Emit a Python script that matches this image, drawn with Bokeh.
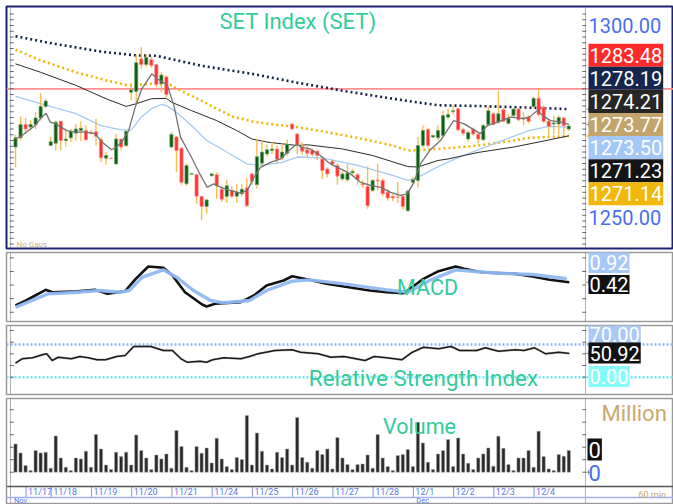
import numpy as np
from bokeh.plotting import figure
from bokeh.layouts import column
from bokeh.models import (Range1d, Label, LabelSet, Span, ColumnDataSource)
from bokeh.core.properties import value
from bokeh.embed import file_html
from bokeh.resources import INLINE

FONT = "Roboto"

# ---------------- data (60-min bars, SET index) ----------------
opens = [1268.3, 1270.7, 1274.2, 1273.5, 1274.2, 1275.9, 1278.9, 1268.7, 1269.3, 1275.0,
         1270.0, 1270.7, 1271.9, 1272.6, 1272.6, 1272.2, 1272.3, 1270.3, 1265.4, 1265.4,
         1263.9, 1270.4, 1268.7, 1282.6, 1282.8, 1291.3, 1289.8, 1291.1, 1289.8, 1284.8,
         1286.6, 1268.3, 1270.9, 1268.0, 1258.7, 1261.2, 1261.1, 1255.4, 1252.8, 1260.8,
         1261.1, 1257.3, 1255.4, 1257.0, 1255.5, 1256.1, 1257.7, 1261.3, 1258.5, 1264.1,
         1266.5, 1267.4, 1267.8, 1265.5, 1266.7, 1274.3, 1271.7, 1268.4, 1267.6, 1267.4,
         1267.2, 1265.2, 1262.6, 1264.6, 1263.5, 1260.0, 1259.8, 1261.6, 1261.1, 1258.6,
         1258.0, 1257.0, 1259.7, 1259.6, 1256.5, 1255.4, 1255.3, 1255.5, 1251.7, 1259.1,
         1259.6, 1268.7, 1272.9, 1270.9, 1270.7, 1271.3, 1276.1, 1277.5, 1278.3, 1272.9,
         1270.4, 1273.0, 1271.6, 1270.2, 1274.2, 1277.0, 1274.8, 1278.0, 1274.5, 1276.5,
         1278.2, 1275.6, 1276.1, 1278.9, 1281.0, 1278.7, 1275.0, 1274.3, 1274.3, 1275.9,
         1273.0]
highs = [1271.5, 1276.3, 1275.9, 1275.2, 1277.4, 1282.4, 1280.9, 1271.0, 1275.2, 1275.0,
         1272.6, 1273.0, 1274.3, 1275.0, 1273.9, 1272.6, 1275.7, 1270.9, 1267.0, 1265.6,
         1271.7, 1270.4, 1272.6, 1284.5, 1292.4, 1294.3, 1292.6, 1291.9, 1290.0, 1287.8,
         1287.0, 1272.2, 1271.2, 1268.3, 1264.0, 1261.6, 1261.3, 1255.6, 1254.8, 1261.6,
         1261.7, 1258.3, 1259.8, 1258.0, 1258.7, 1258.6, 1260.2, 1261.6, 1270.4, 1270.0,
         1269.0, 1269.6, 1268.8, 1269.2, 1270.2, 1274.6, 1272.0, 1269.6, 1268.7, 1268.0,
         1267.6, 1265.8, 1263.0, 1265.0, 1264.1, 1262.0, 1263.9, 1262.6, 1261.5, 1259.8,
         1263.2, 1260.0, 1264.0, 1260.1, 1257.3, 1256.0, 1259.2, 1256.0, 1257.2, 1260.5,
         1270.9, 1273.9, 1273.2, 1271.6, 1273.9, 1277.8, 1278.3, 1279.2, 1278.5, 1273.4,
         1272.6, 1273.4, 1272.0, 1274.3, 1278.9, 1277.4, 1283.0, 1278.5, 1277.0, 1278.5,
         1278.5, 1277.4, 1276.6, 1281.5, 1283.48, 1279.2, 1275.4, 1276.4, 1276.5, 1276.2,
         1274.3]
lows = [1263.0, 1270.0, 1271.7, 1272.6, 1273.0, 1275.2, 1278.5, 1268.7, 1267.4, 1267.4,
        1268.4, 1269.6, 1270.0, 1269.8, 1270.0, 1271.6, 1268.7, 1264.4, 1263.7, 1265.2,
        1263.7, 1267.4, 1268.3, 1280.5, 1279.5, 1288.7, 1289.1, 1289.0, 1283.9, 1282.6,
        1281.3, 1268.0, 1261.7, 1258.5, 1258.2, 1261.0, 1253.5, 1249.3, 1251.0, 1260.6,
        1254.8, 1254.0, 1253.7, 1255.0, 1253.7, 1255.5, 1252.6, 1258.5, 1257.5, 1263.5,
        1265.8, 1266.5, 1264.0, 1264.8, 1266.0, 1272.8, 1266.5, 1266.3, 1265.6, 1265.9,
        1264.9, 1260.0, 1260.4, 1263.5, 1258.5, 1259.5, 1259.1, 1260.9, 1258.5, 1257.6,
        1252.2, 1256.5, 1257.0, 1255.5, 1254.3, 1254.2, 1253.7, 1252.0, 1251.4, 1258.7,
        1257.8, 1268.2, 1268.2, 1270.6, 1270.0, 1270.9, 1275.6, 1276.8, 1272.5, 1271.3,
        1269.6, 1271.3, 1269.3, 1269.8, 1273.9, 1273.9, 1274.4, 1274.8, 1274.2, 1276.0,
        1275.0, 1274.0, 1274.4, 1278.5, 1276.3, 1274.5, 1271.3, 1271.5, 1271.6, 1271.6,
        1272.5]
closes = [1270.7, 1274.2, 1273.0, 1274.2, 1275.9, 1278.9, 1280.3, 1269.7, 1274.8, 1270.0,
          1270.4, 1272.4, 1273.0, 1273.2, 1270.2, 1272.0, 1271.1, 1265.5, 1266.1, 1265.3,
          1270.4, 1268.3, 1272.4, 1283.2, 1290.3, 1289.8, 1291.7, 1289.6, 1284.6, 1287.1,
          1282.0, 1271.6, 1267.4, 1259.1, 1263.5, 1261.4, 1255.5, 1252.8, 1254.5, 1261.3,
          1258.2, 1254.7, 1258.2, 1255.5, 1256.6, 1257.3, 1253.0, 1259.4, 1265.8, 1267.0,
          1267.6, 1267.8, 1265.1, 1267.0, 1269.0, 1273.0, 1268.7, 1267.2, 1266.7, 1266.4,
          1266.1, 1262.2, 1261.3, 1263.9, 1260.7, 1261.3, 1261.5, 1262.0, 1259.8, 1258.4,
          1253.0, 1259.6, 1259.5, 1256.1, 1255.0, 1255.0, 1255.2, 1252.8, 1256.8, 1259.8,
          1268.7, 1272.6, 1268.7, 1271.3, 1272.6, 1276.5, 1276.8, 1277.8, 1272.8, 1271.9,
          1272.1, 1271.7, 1270.4, 1273.9, 1277.8, 1274.2, 1277.0, 1275.0, 1275.7, 1278.2,
          1275.4, 1275.9, 1275.0, 1281.0, 1276.8, 1275.0, 1273.7, 1274.6, 1276.0, 1273.9,
          1273.77]
volumes = [1132, 772, 268, 68, 868, 772, 800, 160, 1452, 572,
           200, 68, 572, 532, 840, 200, 1508, 932, 292, 108,
           800, 628, 800, 292, 1492, 868, 572, 108, 692, 532,
           732, 160, 1668, 1028, 200, 68, 1028, 760, 972, 372,
           1360, 532, 228, 108, 588, 508, 2268, 292, 1572, 840,
           292, 132, 800, 588, 932, 292, 2188, 588, 400, 160,
           868, 708, 932, 132, 1388, 572, 308, 108, 308, 332,
           692, 160, 1508, 572, 228, 68, 668, 708, 908, 228,
           2000, 1172, 400, 108, 732, 868, 1308, 228, 1372, 732,
           360, 108, 572, 732, 972, 240, 1440, 960, 308, 68,
           572, 572, 868, 200, 1640, 628, 132, 68, 708, 640,
           868]

day_labels = ["11/17", "11/18", "11/19", "11/20", "11/21", "11/24", "11/25",
              "11/26", "11/27", "11/28", "12/1", "12/2", "12/3", "12/4"]
day_first_bar = [3, 8, 16, 24, 32, 40, 48, 56, 64, 72, 80, 88, 96, 104]
month_labels = ["Nov", "Dec"]
month_first_bar = [0, 80]

price_ticks = [1250.0, 1300.0]
resistance_level = 1283.48

# moving averages (bar index, value)
ma_long_idx = [0, 7, 17, 24, 28, 37, 47, 56, 65, 75, 84, 92, 102, 110]
ma_long_val = [1297.2, 1295.4, 1293.2, 1292.2, 1292.1, 1289.5, 1287.4, 1285.1, 1283.0,
               1280.9, 1279.2, 1279.0, 1278.6, 1278.19]
ma_orange_idx = [0, 5, 12, 18, 22, 25, 28, 31, 33, 37, 40, 43, 47, 50, 56, 61, 68, 75, 78,
                 82, 92, 99, 102, 110]
ma_orange_val = [1293.7, 1290.9, 1287.8, 1285.7, 1284.5, 1284.6, 1284.9, 1284.4, 1282.9,
                 1280.4, 1278.3, 1276.3, 1275.0, 1274.4, 1273.5, 1272.4, 1270.7, 1268.7,
                 1267.4, 1267.6, 1268.7, 1270.0, 1270.7, 1271.14]
ma_black_idx = [0, 5, 12, 18, 22, 24, 27, 30, 31, 35, 40, 44, 47, 50, 56, 58, 65, 71, 78,
                80, 84, 86, 92, 99, 104, 110]
ma_black_val = [1290.0, 1287.8, 1284.4, 1280.9, 1278.9, 1279.6, 1280.9, 1281.0, 1280.0,
                1277.8, 1275.2, 1272.6, 1270.4, 1269.6, 1268.7, 1268.9, 1267.8, 1266.1,
                1263.2, 1263.1, 1264.8, 1265.2, 1266.9, 1268.3, 1269.6, 1271.23]
ma_blue_idx = [0, 5, 12, 17, 21, 23, 25, 27, 29, 30, 32, 35, 38, 42, 46, 49, 53, 56, 61,
               68, 75, 78, 80, 84, 89, 96, 102, 106, 110]
ma_blue_val = [1281.5, 1279.6, 1277.0, 1273.9, 1272.8, 1272.8, 1276.1, 1278.3, 1279.4,
               1279.1, 1277.4, 1273.9, 1270.0, 1267.0, 1263.9, 1263.5, 1264.3, 1265.7,
               1265.5, 1263.5, 1260.9, 1259.6, 1260.4, 1263.2, 1266.1, 1269.6, 1272.6,
               1273.7, 1273.50]
ma_short_idx = [0, 1.3, 3.9, 5.2, 6.1, 6.9, 7.9, 10.2, 11.9, 13.9, 15.8, 17.2, 19.1, 20.1,
                21.1, 22.5, 23.8, 25.1, 27.1, 28.2, 30.2, 31.5, 32.8, 34.8, 36.8, 38.1,
                39.4, 40.8, 42.7, 44.7, 46.1, 47.4, 48.7, 50.7, 52.7, 54.7, 56, 56.7, 58.6,
                60.6, 62.6, 64.6, 66.6, 68.6, 70.6, 72.6, 74.6, 76.5, 77.9, 79.2, 80.5,
                82.5, 84.5, 87.1, 89.1, 92.4, 93.8, 95.8, 98.4, 101.1, 102.4, 103.7, 105,
                106.4, 108.5, 110]
ma_short_val = [1270.4, 1271.3, 1273.9, 1276.1, 1277.1, 1274.8, 1274.4, 1272.6, 1272.2,
                1272.2, 1271.8, 1269.6, 1267.6, 1268.3, 1269.6, 1272.6, 1278.7, 1283.5,
                1287.4, 1286.1, 1284.4, 1279.1, 1270.9, 1266.1, 1260.9, 1257.8, 1258.7,
                1257.8, 1257.0, 1256.3, 1257.0, 1260.4, 1263.0, 1264.3, 1265.2, 1267.8,
                1269.1, 1268.3, 1267.8, 1266.1, 1263.9, 1262.6, 1261.3, 1259.1, 1258.3,
                1257.8, 1256.5, 1255.7, 1256.1, 1259.1, 1263.9, 1267.6, 1270.0, 1275.2,
                1274.4, 1271.8, 1273.9, 1274.8, 1276.1, 1275.7, 1276.3, 1277.8, 1276.3,
                1275.2, 1274.8, 1274.21]

# MACD (bar index, value)
macd_idx = [0, 2.1, 6.0, 7.3, 12.4, 15.8, 18.3, 21.8, 23.9, 26.4, 29.4, 31.2, 33.7, 37.1,
            38.0, 39.7, 44.8, 47.4, 49.9, 53.3, 55.0, 58.4, 61.8, 65.3, 70.4, 73.8, 77.2,
            81.1, 84.1, 87.5, 89.2, 92.6, 99.4, 102.8, 106.2, 110.1]
macd_val = [-3.01, -2.27, -0.70, -1.05, -0.90, -0.70, -1.29, -0.90, 0.92, 2.73, 2.54, 1.40,
            -1.05, -2.86, -3.15, -2.76, -2.52, -1.54, -0.07, 0.67, 1.30, 0.77, 0.18, -0.21,
            -0.80, -1.05, -1.20, 0.92, 2.04, 2.73, 2.39, 1.89, 1.65, 1.26, 0.77, 0.42]
signal_idx = [0, 6.4, 12.4, 16.6, 20.9, 22.6, 25.2, 29.4, 32.0, 35.4, 38.8, 41.4, 46.5,
              49.9, 55.0, 58.4, 65.3, 73.8, 78.1, 82.3, 87.5, 90.9, 96.0, 102.8, 109.6]
signal_val = [-3.26, -1.29, -1.05, -0.80, -1.05, -0.80, 1.16, 2.24, 1.16, -0.80, -2.27,
              -2.61, -2.27, -0.80, 0.57, 0.77, 0.18, -0.70, -1.05, 0.67, 2.24, 2.04, 1.74,
              1.55, 0.92]

# RSI (bar index, value)
rsi_idx = [0, 1.3, 3.4, 5.5, 6.2, 7.3, 8.5, 11.1, 12.8, 14.5, 16.2, 17.9, 20.1, 21.8, 23.5,
           25.2, 26.9, 29.4, 31.2, 32.9, 34.1, 36.7, 38.0, 39.2, 41.4, 44.8, 46.5, 48.2,
           51.6, 55.0, 56.7, 60.2, 62.7, 65.3, 69.5, 71.3, 73.8, 76.8, 78.9, 81.1, 84.1,
           86.6, 88.3, 91.7, 93.4, 96.0, 99.4, 101.1, 103.2, 105.4, 108.0, 110.1]
rsi_val = [30.0, 39.4, 41.5, 48.6, 50.1, 35.8, 42.8, 39.4, 44.3, 41.5, 37.3, 37.3, 44.3,
           46.5, 65.7, 65.7, 65.7, 57.2, 57.2, 39.4, 32.1, 34.3, 32.1, 37.3, 41.5, 39.4,
           44.3, 50.1, 57.2, 58.7, 53.5, 50.1, 42.8, 44.3, 35.8, 44.3, 41.5, 37.3, 53.5,
           64.2, 60.8, 65.7, 57.2, 57.2, 63.0, 55.7, 58.7, 57.2, 63.0, 50.1, 53.5, 50.92]
rsi_levels = [70.0, 0.0]

# ---------------- styling / layout constants ----------------
TEAL = "#33cc99"
AXBLUE = "#4a6ef0"
TAN = "#c9a96e"
DATEBLUE = "#5a78e8"
W = 673

n = len(closes)
idx = np.arange(n)
o = np.array(opens); c = np.array(closes)
h = np.array(highs); l = np.array(lows)
up = c >= o

# x scale: one bar every 5.03 px, bar 0 at 15 px
xr = Range1d(-1.789, 130.815)
X_RIGHT_AXIS = 113.32   # position of the right price axis (in bar units)
X_LEFT_AXIS = -0.994
X_MARK = 113.95


def make_fig(height, y0, y1, top, bottom, outline, ow=1.5):
    p = figure(width=W, height=height, x_range=xr, y_range=Range1d(y0, y1),
               x_axis_type=None, y_axis_type=None, toolbar_location=None,
               output_backend="svg", min_border_left=6, min_border_right=0,
               min_border_top=top, min_border_bottom=bottom)
    p.outline_line_color = outline
    p.outline_line_width = ow
    p.background_fill_color = "white"
    p.border_fill_color = "white"
    for xa in (X_RIGHT_AXIS, X_LEFT_AXIS):
        p.add_layout(Span(location=xa, dimension="height", line_color="#666666",
                          line_width=1, line_dash="1 1"))
    return p


def axis_ticks(p, yvals):
    yv = list(yvals)
    p.scatter([X_RIGHT_AXIS - 0.25] * len(yv), yv, marker="dash", size=4,
              line_color="#666666", line_width=1)
    p.scatter([X_LEFT_AXIS + 0.25] * len(yv), yv, marker="dash", size=4,
              line_color="#666666", line_width=1)


def tag(p, x, y, text, bg=None, color="white", size="20px", align="left",
        y_units="screen", pad_v=4, pad_h=1):
    lab = Label(x=x, y=y, x_units="screen", y_units=y_units, text=text,
                text_font=FONT, text_font_size=size, text_color=color,
                text_align=align, text_baseline="middle")
    if bg is not None:
        lab.background_fill_color = bg
        lab.background_fill_alpha = 1.0
        lab.padding = dict(left=pad_h, right=pad_h, top=pad_v, bottom=pad_v)
    p.add_layout(lab)


# ---------------- main price panel ----------------
pm = make_fig(250, 1241.84, 1304.96, 6, 2, "#1c2473", ow=2)
axis_ticks(pm, np.arange(1243.0, 1304.0, 1.5))

pm.add_layout(Span(location=resistance_level, dimension="width", line_color="#ff8f8f",
                   line_width=1.6, level="underlay"))

pm.line(ma_long_idx, ma_long_val, line_color="#16244a", line_width=2.6, line_dash="2 3")
pm.line(ma_orange_idx, ma_orange_val, line_color="#f2b705", line_width=2.6, line_dash="2 3")
pm.line(ma_blue_idx, ma_blue_val, line_color="#a6c9f5", line_width=1.3)
pm.line(ma_black_idx, ma_black_val, line_color="#2b2b2b", line_width=1.0)

pm.segment(idx, l, idx, h, line_color="#f6b640", line_width=1.4, line_alpha=0.9)
pm.vbar(idx[up], 0.64, np.maximum(o, c)[up], np.minimum(o, c)[up],
        fill_color="#0d5e12", line_color="#6fa86f", line_width=0.7)
pm.vbar(idx[~up], 0.64, np.maximum(o, c)[~up], np.minimum(o, c)[~up],
        fill_color="#ff3030", line_color="#ff8a8a", line_width=0.7)

pm.line(ma_short_idx, ma_short_val, line_color="#737373", line_width=1.3)

pm.scatter([X_MARK] * 3, [ma_long_val[-1], ma_short_val[-1], ma_orange_val[-1]],
           marker="cross", size=5, line_color=["#8890a8", "#999999", "#f2b705"], line_width=1)

tag(pm, 291.5, 227, "SET Index (SET)", color=TEAL, size="22px", align="center")
tag(pm, 10, 4.5, "No Gaps", color="#c8b486", size="8px")

for tv in price_ticks:
    tag(pm, 582, tv, f"{tv:.2f}", color=AXBLUE, size="20px", y_units="data")

box_values = [resistance_level, ma_long_val[-1], ma_short_val[-1], closes[-1],
              ma_blue_val[-1], ma_black_val[-1], ma_orange_val[-1]]
box_colors = ["#ff2a2a", "#14264d", "#262626", "#c2a46c", "#a3c7f7", "#151515", "#f1b70a"]
for k, (v, col) in enumerate(zip(box_values, box_colors)):
    tag(pm, 582, 193.3 - 23.1 * k, f"{v:.2f}", bg=col)

# ---------------- MACD panel ----------------
pmacd = make_fig(73, -5.36, 4.79, 2, 2, "#9a9a9a")
axis_ticks(pmacd, [-4, -2, 0, 2, 4])
pmacd.line(macd_idx, macd_val, line_color="#111111", line_width=2.6)
pmacd.line(signal_idx, signal_val, line_color="#8fb8f2", line_width=3.4, line_alpha=0.95)
pmacd.scatter([X_MARK], [macd_val[-1]], marker="cross", size=5, line_color="#888888")
tag(pmacd, 421, 34, "MACD", color=TEAL, size="21.5px", align="center")
tag(pmacd, 582, 59, f"{signal_val[-1]:.2f}", bg="#a8c9f7", pad_v=3)
tag(pmacd, 582, 37, f"{macd_val[-1]:.2f}", bg="#111111", pad_v=2)

# ---------------- RSI panel ----------------
prsi = make_fig(73, -37.0, 110.7, 2, 2, "#9a9a9a")
axis_ticks(prsi, [0, 25, 50, 75, 100])
for lev, col in zip(rsi_levels, ["#8fb8f2", "#6fe9f2"]):
    prsi.add_layout(Span(location=lev, dimension="width", line_color=col,
                         line_width=2.6, line_dash="2 2", level="underlay"))
prsi.line(rsi_idx, rsi_val, line_color="#9a9a9a", line_width=2.4, line_alpha=0.5)
prsi.line(rsi_idx, rsi_val, line_color="#1a1a1a", line_width=1.5)
prsi.scatter([X_MARK], [rsi_val[-1]], marker="cross", size=5, line_color="#888888")
tag(prsi, 417, 17, "Relative Strength Index", color=TEAL, size="22.5px", align="center")
tag(prsi, 582, 60, f"{rsi_levels[0]:.2f}", bg="#a8c9f7", pad_v=3)
tag(prsi, 582, 41.5, f"{rsi_val[-1]:.2f}", bg="#111111", pad_v=3)
tag(prsi, 582, 18, f"{rsi_levels[1]:.2f}", bg="#86fbfb", pad_v=3)

# ---------------- Volume panel (with date row) ----------------
VOL_BOTTOM = -572     # bottom edge of the volume area
DATE_BOTTOM = -1012   # bottom edge of the date row
pv = make_fig(108, -1252, 2948, 2, 1, "#9a9a9a")
axis_ticks(pv, [0, 500, 1000, 1500, 2000, 2500])
pv.vbar(idx, 0.65, volumes, 0, fill_color="#2a2a2a", line_color="#b5b5b5", line_width=0.5)
pv.add_layout(Span(location=VOL_BOTTOM, dimension="width", line_color="#555555", line_width=1.5))
pv.add_layout(Span(location=DATE_BOTTOM, dimension="width", line_color="#9fb0f5", line_width=1.5))
pv.scatter([X_MARK], [0.0], marker="cross", size=5, line_color="#888888")

bounds = [b - 0.9 for b in day_first_bar]
pv.segment(bounds, [VOL_BOTTOM] * len(bounds), bounds, [DATE_BOTTOM] * len(bounds),
           line_color="#7d93ef", line_width=1)

tag(pv, 413, 77, "Volume", color=TEAL, size="21.5px", align="center")
tag(pv, 595, 90, "Million", color=TAN, size="22px")
tag(pv, 581, 54, "0", bg="#111111", size="22px", pad_v=3, pad_h=1)
tag(pv, 582, 31, "0", color=AXBLUE, size="22px")
tag(pv, 632, 8.5, "60 min", color=TAN, size="9px")

day_src = ColumnDataSource(dict(x=bounds, text=day_labels))
pv.add_layout(LabelSet(x="x", y=12, y_units="screen", text="text", source=day_src,
                       x_offset=2, text_font=value(FONT), text_font_size=value("9px"),
                       text_color=DATEBLUE, text_baseline="middle", text_align="left"))
mon_src = ColumnDataSource(dict(x=[m - 0.9 for m in month_first_bar], text=month_labels))
pv.add_layout(LabelSet(x="x", y=3, y_units="screen", text="text", source=mon_src,
                       x_offset=3, text_font=value(FONT), text_font_size=value("7.5px"),
                       text_color=DATEBLUE, text_baseline="middle", text_align="left"))

layout = column(pm, pmacd, prsi, pv, spacing=0)
open("out.html", "w").write(file_html(layout, INLINE))
